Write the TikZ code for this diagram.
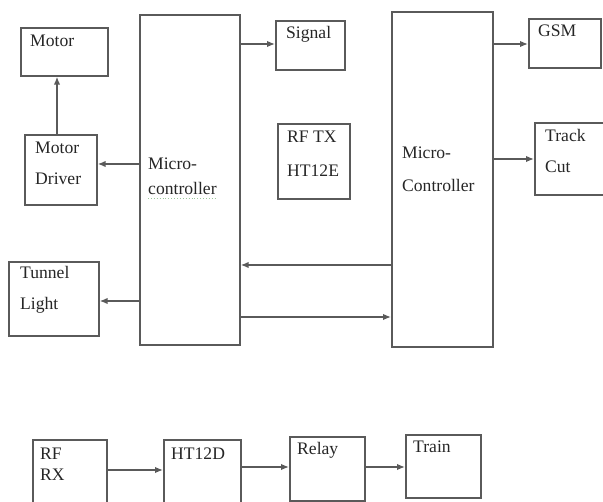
\documentclass[tikz,border=0pt]{standalone}
\usepackage{fontspec}
\setmainfont{Liberation Serif}
\usetikzlibrary{arrows.meta}
\definecolor{lin}{HTML}{5A5A5A}
\definecolor{txc}{HTML}{262626}
\definecolor{sq}{HTML}{9CC89C}
\tikzset{
  box/.style={draw=lin, line width=1.7pt, inner sep=0pt, anchor=north west, fill=white},
  txt/.style={anchor=base west, inner sep=0pt, text=txc, font=\fontsize{17.6}{21}\selectfont},
  arr/.style={draw=lin, line width=1.5pt, -{Latex[length=8pt,width=6.5pt]}},
  plain/.style={draw=lin, line width=1.5pt}
}
\begin{document}
\begin{tikzpicture}[x=1pt,y=-1pt]
\useasboundingbox (0,0) rectangle (603,502);
\clip (0,0) rectangle (603,502);
\fill[white] (0,0) rectangle (603,502);
% boxes
\node[box,minimum width=87pt,minimum height=48pt] (motor) at (20,27) {};
\node[box,minimum width=72pt,minimum height=70pt] (driver) at (24,134) {};
\node[box,minimum width=100pt,minimum height=330pt] (mcL) at (139,14) {};
\node[box,minimum width=69pt,minimum height=49pt] (signal) at (275,20) {};
\node[box,minimum width=72pt,minimum height=75pt] (rftx) at (277,123) {};
\node[box,minimum width=101pt,minimum height=335pt] (mcR) at (391,11) {};
\node[box,minimum width=72pt,minimum height=49pt] (gsm) at (528,18) {};
\node[box,minimum width=76pt,minimum height=72pt] (track) at (534,122) {};
\node[box,minimum width=90pt,minimum height=74pt] (tunnel) at (8,261) {};
\node[box,minimum width=74pt,minimum height=71pt] (rfrx) at (32,439) {};
\node[box,minimum width=77pt,minimum height=71pt] (ht) at (163,439) {};
\node[box,minimum width=75pt,minimum height=64pt] (relay) at (289,436) {};
\node[box,minimum width=75pt,minimum height=63pt] (train) at (405,434) {};
% texts
\node[txt] (t1) at (30,47) {Motor};
\node[txt] (t2) at (35,154) {Motor};
\node[txt] (t3) at (35,185) {Driver};
\node[txt] (t4) at (148,170) {Micro-};
\node[txt] (t5) at (148,195) {controller};
\draw[sq, line width=0.9pt, dotted] (t5.south west) ++(0,3) -- ++(69,0);
\node[txt] (t6) at (286,39) {Signal};
\node[txt] (t7) at (287,143) {RF TX};
\node[txt] (t8) at (287,177) {HT12E};
\node[txt] (t9) at (402,159) {Micro-};
\node[txt] (t10) at (402,192) {Controller};
\node[txt] (t11) at (538,37) {GSM};
\node[txt] (t12) at (545,142) {Track};
\node[txt] (t13) at (545,173) {Cut};
\node[txt] (t14) at (20,279) {Tunnel};
\node[txt] (t15) at (20,310) {Light};
\node[txt] (t16) at (40,460) {RF};
\node[txt] (t17) at (40,481) {RX};
\node[txt] (t18) at (171,460) {HT12D};
\node[txt] (t19) at (297,455) {Relay};
\node[txt] (t20) at (413,453) {Train};
% connectors
\draw[arr] (driver.north -| 57,0) -- (motor.south -| 57,0);
\draw[arr] (mcL.west |- 0,164) -- (driver.east |- 0,164);
\draw[arr] (mcL.east |- 0,44) -- (signal.west |- 0,44);
\draw[arr] (mcL.west |- 0,301) -- (tunnel.east |- 0,301);
\draw[arr] (mcR.west |- 0,265) -- (mcL.east |- 0,265);
\draw[arr] (mcL.east |- 0,317) -- (mcR.west |- 0,317);
\draw[arr] (mcR.east |- 0,44) -- (gsm.west |- 0,44);
\draw[arr] (mcR.east |- 0,159) -- (track.west |- 0,159);
\draw[arr] (rfrx.east |- 0,470) -- (ht.west |- 0,470);
\draw[arr] (ht.east |- 0,467) -- (relay.west |- 0,467);
\draw[arr] (relay.east |- 0,467) -- (train.west |- 0,467);
\end{tikzpicture}
\end{document}
